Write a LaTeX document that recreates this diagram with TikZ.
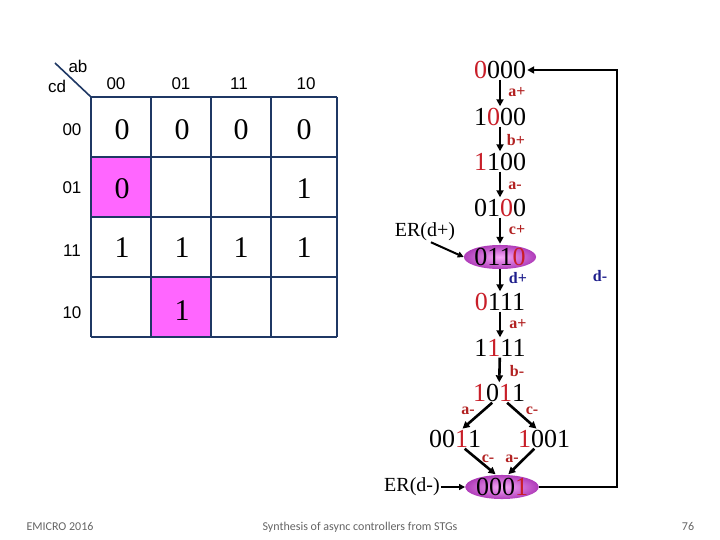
\documentclass[tikz,border=0pt]{standalone}
\usepackage{fontspec}
\setmainfont{Liberation Serif}
\newfontfamily\arialf{Liberation Sans}
\newfontfamily\calibf{Carlito}
\usetikzlibrary{arrows.meta,shapes.geometric}
\definecolor{dred}{RGB}{200,30,40}
\definecolor{lblred}{RGB}{178,34,34}
\definecolor{dblue}{RGB}{30,30,140}
\definecolor{gridblue}{RGB}{31,56,100}
\definecolor{pinkc}{RGB}{255,102,255}
\definecolor{footgray}{RGB}{100,100,100}
\newcommand\rd[1]{\textcolor{dred}{#1}}
\begin{document}
\begin{tikzpicture}[x=1pt,y=-1pt,
  hdr/.style={font=\arialf\fontsize{17}{17}\selectfont, inner sep=0pt},
  val/.style={font=\fontsize{30}{30}\selectfont, inner sep=0pt},
  gridl/.style={draw=gridblue, line width=1.6pt},
  state/.style={font=\fontsize{26}{26}\selectfont, inner sep=1pt, text height=17pt, text depth=0pt},
  ell/.style={ellipse, font=\fontsize{26}{26}\selectfont, inner sep=0pt, text height=17pt, text depth=0pt, minimum width=71pt, minimum height=22pt, inner color={rgb,255:red,250;green,170;blue,250}, outer color={rgb,255:red,175;green,60;blue,185}},
  lbl/.style={font=\bfseries\fontsize{16}{16}\selectfont, text=lblred, inner sep=0pt},
  blbl/.style={font=\bfseries\fontsize{16}{16}\selectfont, text=dblue, inner sep=0pt},
  arr/.style={line width=2.6pt, -{Triangle[length=7pt,width=7pt]}, shorten >=1pt},
  arrthin/.style={line width=2pt, -{Triangle[length=6pt,width=6pt]}},
  er/.style={font=\fontsize{20}{20}\selectfont, inner sep=1pt},
  foot/.style={font=\calibf\fontsize{12}{12}\selectfont, text=footgray, inner sep=0pt, anchor=base}
]
\useasboundingbox (0,0) rectangle (720,540);
% K-map
\fill[pinkc] (91,157) rectangle (151,217);
\fill[pinkc] (151,277) rectangle (211,337);
\foreach \x in {91,151,211,271,337} \draw[gridl] (\x,97) -- (\x,337);
\foreach \y in {97,157,217,277,337} \draw[gridl] (91,\y) -- (337,\y);
\draw[gridl] (55,63) -- (91,97);
\node[hdr] (hab) at (78,66) {ab};
\node[hdr] (hcd) at (57,86) {cd};
\node[hdr] (c0) at (116,84) {00};
\node[hdr] (c1) at (181,84) {01};
\node[hdr] (c2) at (239,84) {11};
\node[hdr] (c3) at (306,84) {10};
\node[hdr] (r0) at (72,130) {00};
\node[hdr] (r1) at (72,188) {01};
\node[hdr] (r2) at (72,251) {11};
\node[hdr] (r3) at (72,313) {10};
\node[val] (v00) at (122,130) {0};
\node[val] (v01) at (182,130) {0};
\node[val] (v02) at (241,130) {0};
\node[val] (v03) at (304,130) {0};
\node[val] (v10) at (122,189) {0};
\node[val] (v13) at (304,189) {1};
\node[val] (v20) at (122,248) {1};
\node[val] (v21) at (182,248) {1};
\node[val] (v22) at (241,248) {1};
\node[val] (v23) at (304,248) {1};
\node[val] (v31) at (182,311) {1};
% state graph
\node[state] (s0000) at (500,70) {\rd{0}000};
\node[state] (s1000) at (500,117) {1\rd{0}00};
\node[state] (s1100) at (500,162) {\rd{1}100};
\node[state] (s0100) at (500,208) {01\rd{0}0};
\node[ell] (s0110) at (500,257) {011\rd{0}};
\node[state] (s0111) at (500,302) {\rd{0}111};
\node[state] (s1111) at (500,348) {1\rd{1}11};
\node[state] (s1011) at (499,393) {\rd{1}0\rd{1}1};
\node[state] (s0011) at (455,439) {00\rd{1}1};
\node[state] (s1001) at (544,439) {\rd{1}001};
\node[ell] (s0001) at (502,487) {000\rd{1}};
\draw[arr] (s0000) -- (s1000);
\draw[arr] (s1000) -- (s1100);
\draw[arr] (s1100) -- (s0100);
\draw[arr] (s0100) -- (s0110);
\draw[arr] (s0110) -- (s0111);
\draw[arr] (s0111) -- (s1111);
\draw[arr] (s1111) -- (s1011);
\draw[arr] (s1011.235) -- (s0011.55);
\draw[arr] (s1011.-50) -- (s1001.125);
\draw[arr] (s0011.-45) -- (s0001.115);
\draw[arr] (s1001.-135) -- (s0001.65);
\node[lbl] (l1) at (517,92) {a+};
\node[lbl] (l2) at (516,140) {b+};
\node[lbl] (l3) at (515,186) {a-};
\node[lbl] (l4) at (517,230) {c+};
\node[blbl] (l5) at (518,278) {d+};
\node[blbl] (l6) at (600,276) {d-};
\node[lbl] (l7) at (518,324) {a+};
\node[lbl] (l8) at (517,371) {b-};
\node[lbl] (l9) at (468,411) {a-};
\node[lbl] (l10) at (532,411) {c-};
\node[lbl] (l11) at (488,459) {c-};
\node[lbl] (l12) at (512,459) {a-};
\node[er] (erp) at (425,232) {ER(d+)};
\node[er] (erm) at (412,487) {ER(d-)};
\draw[arrthin] (erp.-60) -- (s0110.west);
\draw[arrthin] (erm.east) -- (s0001.west);
\coordinate (fb1) at (617,487);
\coordinate (fb2) at (617,70);
\draw[line width=2.6pt, -{Triangle[length=7pt,width=7pt]}] (s0001.east) -- (fb1) -- (fb2) -- (s0000.east);
% footer
\node[foot] (f1) at (60,530) {EMICRO 2016};
\node[foot] (f2) at (360,530) {Synthesis of async controllers from STGs};
\node[foot] (f3) at (688,530) {76};
\end{tikzpicture}
\end{document}
